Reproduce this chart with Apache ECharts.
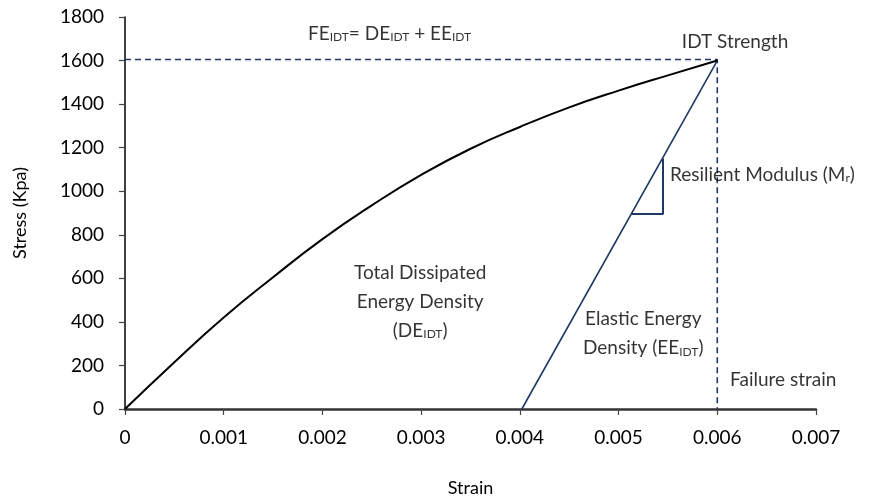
<!DOCTYPE html>
<html>
<head>
<meta charset="utf-8">
<script src="https://cdn.jsdelivr.net/npm/echarts@6/dist/echarts.min.js"></script>
<style>
  html, body { margin: 0; padding: 0; background: #fff; }
  #main { width: 869px; height: 496px; }
</style>
</head>
<body>
<div id="main"></div>
<script>
// stress-strain curve
var curveStrain = [0, 0.0005, 0.001, 0.0015, 0.002, 0.0025, 0.003, 0.0035, 0.004, 0.0045, 0.005, 0.0055, 0.006];
var curveStress = [0, 215, 420, 605, 780, 935, 1075, 1195, 1295, 1385, 1462, 1532, 1600];

// elastic unloading line
var elasticStrain = [0.00402, 0.006];
var elasticStress = [0, 1600];

// dashed guides to the IDT strength point
var guideStrain = [0, 0.006, 0.006];
var guideStress = [1605, 1605, 0];

// slope triangle (resilient modulus)
var triStrain = [0.00513, 0.00545, 0.00545];
var triStress = [895, 895, 1150];

var xTicks = ['0', '0.001', '0.002', '0.003', '0.004', '0.005', '0.006', '0.007'];

// annotation texts and where they sit (data coords)
var noteText = [
  '{n|FE}{s|IDT}{n|= DE}{s|IDT}{n| + EE}{s|IDT}',
  '{n|IDT Strength}',
  '{n|Resilient Modulus (M}{s|r}{n|)}',
  '{n|Total Dissipated}\n{n|Energy Density}\n{n|(DE}{s|IDT}{n|)}',
  '{n|Elastic Energy}\n{n|Density (EE}{s|IDT}{n|)}',
  '{n|Failure strain}'
];
var noteStrain = [0.00268, 0.00618, 0.00552, 0.00299, 0.00525, 0.00613];
var noteStress = [1747, 1711, 1099, 515, 368, 157];
var noteAlign = ['center', 'center', 'left', 'center', 'center', 'left'];

function zip(a, b) {
  var out = [];
  for (var i = 0; i < a.length; i++) out.push([a[i], b[i]]);
  return out;
}

var FONT = 'Lato';
var FS = 19;
var NAVY = '#1f3864';

var notes = [];
for (var i = 0; i < noteText.length; i++) {
  notes.push({
    value: [noteStrain[i], noteStress[i]],
    label: { formatter: noteText[i], align: noteAlign[i] }
  });
}

var myChart = echarts.init(document.getElementById('main'));

var option = {
  backgroundColor: '#fff',
  animation: false,
  textStyle: { fontFamily: FONT },
  grid: { left: 125, right: 53, top: 17, bottom: 87, outerBoundsMode: 'none' },
  xAxis: {
    type: 'value',
    min: 0,
    max: 0.007,
    interval: 0.001,
    name: 'Strain',
    nameLocation: 'middle',
    nameGap: 70,
    nameTextStyle: { fontFamily: FONT, fontSize: FS - 1, color: '#000' },
    axisLine: { lineStyle: { color: '#333', width: 2.5 } },
    axisTick: { length: 6, lineStyle: { color: '#444', width: 1.2 } },
    axisLabel: {
      margin: 19,
      fontFamily: FONT,
      fontSize: FS,
      color: '#000',
      formatter: function (v) { return xTicks[Math.round(v * 1000)]; }
    },
    splitLine: { show: false }
  },
  yAxis: {
    type: 'value',
    min: 0,
    max: 1800,
    interval: 200,
    name: 'Stress (Kpa)',
    nameLocation: 'middle',
    nameGap: 96,
    nameTextStyle: { fontFamily: FONT, fontSize: FS - 1, color: '#000' },
    axisLine: { show: true, lineStyle: { color: '#000', width: 1.5 } },
    axisTick: { show: true, length: 6, lineStyle: { color: '#444', width: 1.2 } },
    axisLabel: {
      margin: 21,
      fontFamily: FONT,
      fontSize: FS,
      color: '#000',
      formatter: function (v) { return String(v); }
    },
    splitLine: { show: false }
  },
  series: [
    {
      name: 'guides',
      type: 'line',
      data: zip(guideStrain, guideStress),
      symbol: 'none',
      lineStyle: { color: NAVY, width: 1.6, type: [6, 4] },
      z: 1
    },
    {
      name: 'curve',
      type: 'line',
      data: zip(curveStrain, curveStress),
      smooth: true,
      symbol: 'none',
      lineStyle: { color: '#000', width: 2 },
      z: 3
    },
    {
      name: 'elastic',
      type: 'line',
      data: zip(elasticStrain, elasticStress),
      symbol: 'none',
      lineStyle: { color: NAVY, width: 1.6 },
      z: 2
    },
    {
      name: 'triangle',
      type: 'line',
      data: zip(triStrain, triStress),
      symbol: 'none',
      lineStyle: { color: NAVY, width: 2 },
      z: 2
    },
    {
      name: 'notes',
      type: 'scatter',
      data: notes,
      symbolSize: 0,
      silent: true,
      label: {
        show: true,
        position: 'inside',
        verticalAlign: 'middle',
        color: '#000',
        lineHeight: 29,
        rich: {
          n: { fontFamily: FONT, fontSize: FS, color: '#000', verticalAlign: 'bottom', lineHeight: 29 },
          s: { fontFamily: FONT, fontSize: 12, color: '#000', verticalAlign: 'bottom', lineHeight: 26 }
        }
      },
      z: 5
    }
  ]
};

myChart.setOption(option);
</script>
</body>
</html>
